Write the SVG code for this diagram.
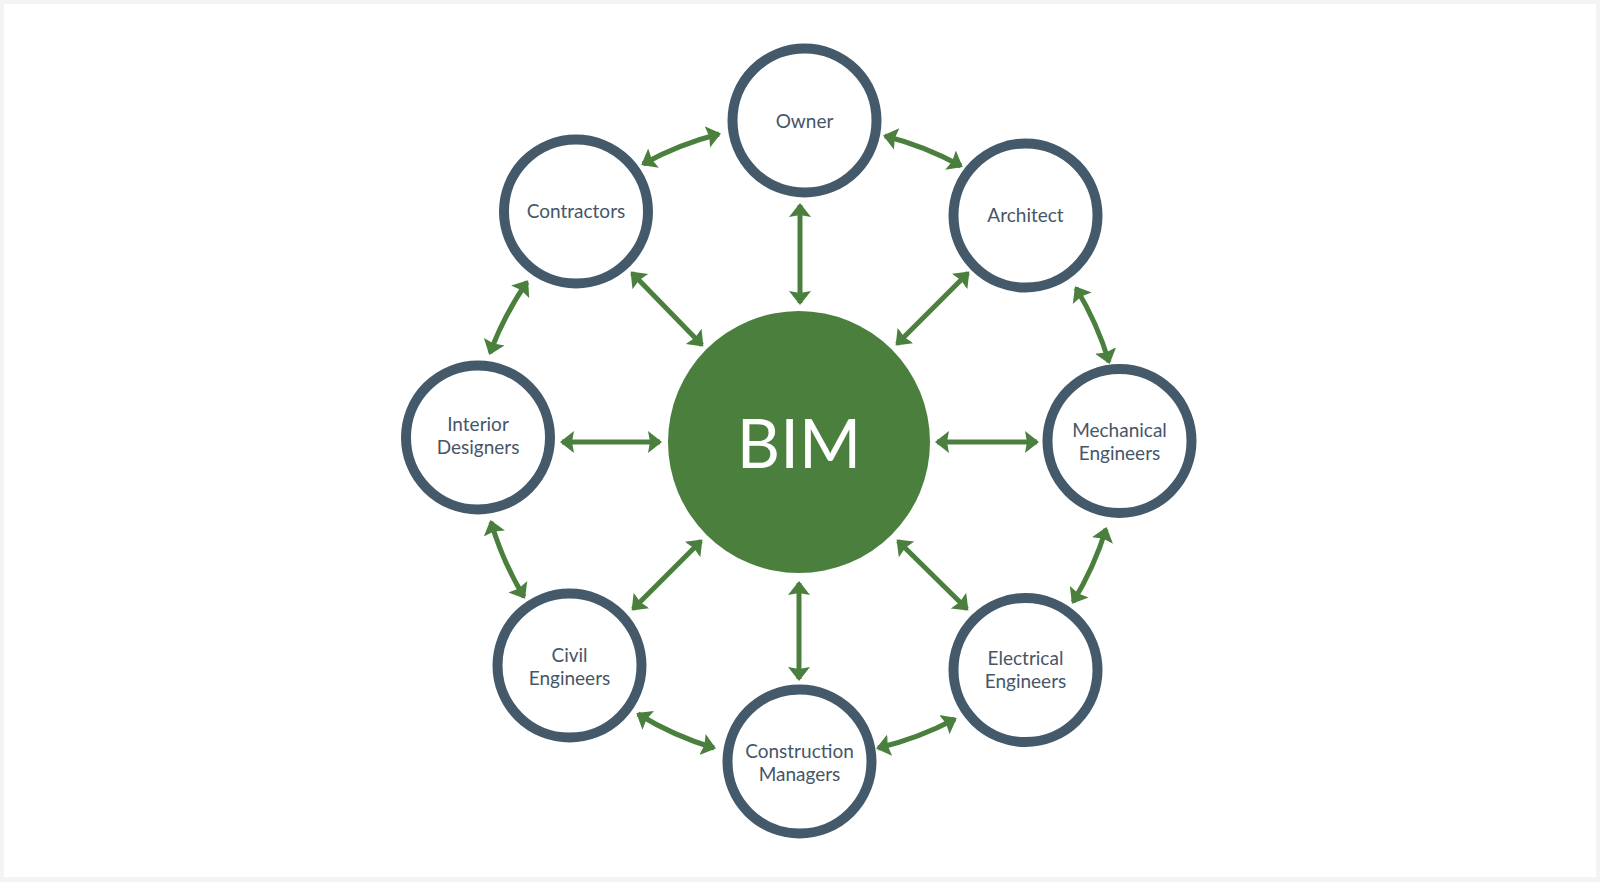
<svg xmlns="http://www.w3.org/2000/svg" width="1600" height="882" viewBox="0 0 1600 882">
<defs>
<style>
.ring{fill:#ffffff;stroke:#44596a;stroke-width:10}
.lbl{font-family:Lato,"Open Sans","Liberation Sans",sans-serif;font-size:19px;fill:#465668;text-anchor:middle}
.con{fill:none;stroke:#4a7f3e;stroke-width:5;marker-start:url(#ah);marker-end:url(#ah)}
</style>
<marker id="ah" markerUnits="userSpaceOnUse" markerWidth="16" markerHeight="24" viewBox="0 -12 16 24" refX="12" refY="0" orient="auto-start-reverse">
<path d="M0,-11 L14,0 L0,11 L2,0 Z" fill="#4a7f3e"/>
</marker>
</defs>
<rect x="0" y="0" width="1600" height="882" fill="#f4f4f4"/>
<rect x="4" y="4" width="1592" height="873" fill="#ffffff"/>

<g id="connectors">
<path class="con" d="M800,205 L800,303"/>
<path class="con" d="M632,273 L702,345"/>
<path class="con" d="M968,273 L897,344"/>
<path class="con" d="M562,442 L660,442"/>
<path class="con" d="M937,442 L1037,442"/>
<path class="con" d="M633,609 L701,541"/>
<path class="con" d="M967,609 L898,541"/>
<path class="con" d="M799,583 L799,679"/>
<path class="con" d="M643,164 A320,320 0 0 1 719,134"/>
<path class="con" d="M885,136 A320,320 0 0 1 961,166"/>
<path class="con" d="M1076,288 A320,320 0 0 1 1109,362"/>
<path class="con" d="M1106,529 A320,320 0 0 1 1073,602"/>
<path class="con" d="M955,719 A320,320 0 0 1 878,748"/>
<path class="con" d="M714,748 A320,320 0 0 1 638,714"/>
<path class="con" d="M524,597 A320,320 0 0 1 491,522"/>
<path class="con" d="M490,353 A320,320 0 0 1 527,282"/>
</g>

<g id="bim">
<circle cx="799" cy="442" r="131" fill="#4a7f3e"/>
<text x="799" y="468" font-family="Lato,'Open Sans','Liberation Sans',sans-serif" font-size="67" fill="#ffffff" text-anchor="middle">BIM</text>
</g>

<g id="owner">
<circle class="ring" cx="804.5" cy="120.5" r="72"/>
<text class="lbl" x="804.5" y="128">Owner</text>
</g>
<g id="architect">
<circle class="ring" cx="1025.5" cy="215.5" r="72"/>
<text class="lbl" x="1025.5" y="222">Architect</text>
</g>
<g id="mechanical">
<circle class="ring" cx="1119.5" cy="441" r="72"/>
<text class="lbl" x="1119.5" y="437">Mechanical</text>
<text class="lbl" x="1119.5" y="460">Engineers</text>
</g>
<g id="electrical">
<circle class="ring" cx="1025.5" cy="670" r="72"/>
<text class="lbl" x="1025.5" y="665">Electrical</text>
<text class="lbl" x="1025.5" y="688">Engineers</text>
</g>
<g id="construction">
<circle class="ring" cx="799.5" cy="761.5" r="72"/>
<text class="lbl" x="799.5" y="758">Construction</text>
<text class="lbl" x="799.5" y="781">Managers</text>
</g>
<g id="civil">
<circle class="ring" cx="569.5" cy="665.5" r="72"/>
<text class="lbl" x="569.5" y="662">Civil</text>
<text class="lbl" x="569.5" y="685">Engineers</text>
</g>
<g id="interior">
<circle class="ring" cx="478" cy="437.5" r="72"/>
<text class="lbl" x="478" y="431">Interior</text>
<text class="lbl" x="478" y="454">Designers</text>
</g>
<g id="contractors">
<circle class="ring" cx="576" cy="211.5" r="72"/>
<text class="lbl" x="576" y="218">Contractors</text>
</g>
</svg>
